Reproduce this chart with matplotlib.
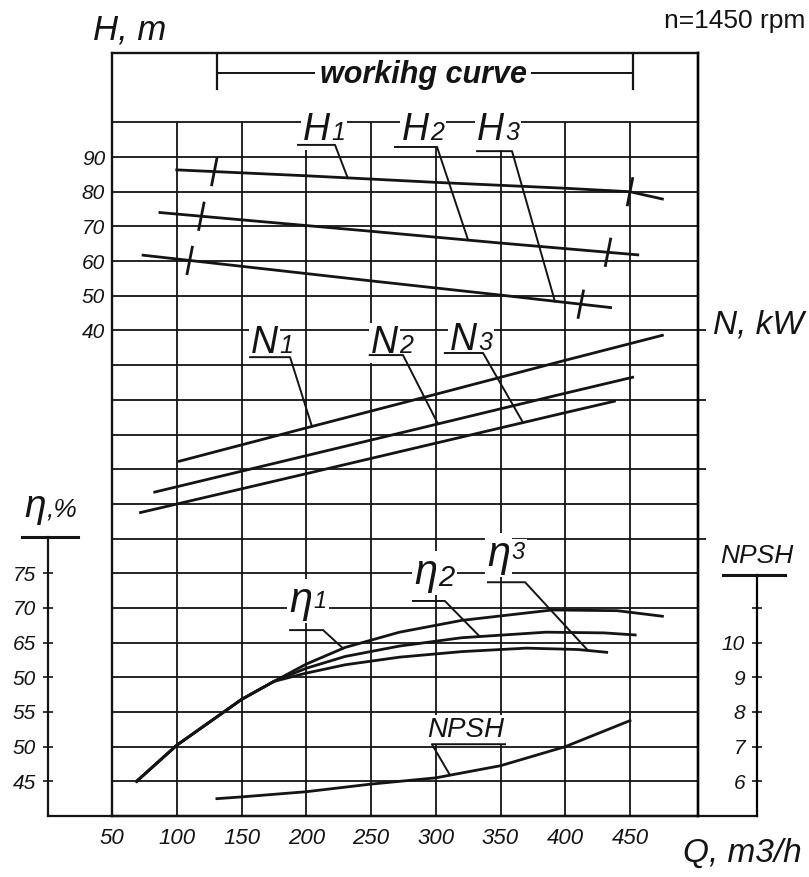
import numpy as np
import matplotlib.pyplot as plt
from matplotlib.lines import Line2D

plt.rcParams['font.family'] = ['Liberation Sans', 'DejaVu Sans']
plt.rcParams['font.style'] = 'italic'

# ---- values ----
q_ticks = [50, 100, 150, 200, 250, 300, 350, 400, 450]
h_ticks = [90, 80, 70, 60, 50, 40]
eta_ticks = [75, 70, 65, 60, 55, 50, 45]
eta_labels = ['75', '70', '65', '50', '55', '50', '45']   # printed like this on the original
npsh_ticks = [6, 7, 8, 9, 10, 11]
npsh_labels = ['6', '7', '8', '9', '10', '']
n_ticks = [-20, 0, 20, 40]   # unlabelled N-scale ticks (grid units)

# head curves, m
q_h1 = [100, 200, 300, 400, 450, 475]
h1 = [86.3, 84.6, 82.7, 81.0, 80.0, 77.9]
q_h2 = [87, 150, 250, 350, 456]
h2 = [74.0, 71.9, 68.6, 65.2, 61.8]
q_h3 = [74, 150, 250, 350, 435]
h3 = [61.7, 58.5, 54.3, 50.2, 46.6]
work_h1 = [129, 450]
work_h2 = [119, 433]
work_h3 = [110, 412]
work_range = [131, 452]

# power curves (no scale printed, grid units)
q_n1 = [102, 200, 300, 400, 475]
n1 = [2.3, 11.9, 21.6, 31.4, 38.6]
q_n2 = [83, 200, 300, 400, 452]
n2 = [-6.6, 3.9, 12.9, 21.9, 26.5]
q_n3 = [72, 200, 300, 400, 438]
n3 = [-12.5, -1.3, 7.5, 16.3, 19.6]

# efficiency, %
q_e1 = [69, 100, 150, 175, 200, 230, 272, 320, 390, 440, 475]
e1 = [45, 50.2, 56.8, 59.4, 61.9, 64.3, 66.5, 68.2, 69.7, 69.6, 68.8]
q_e2 = [69, 100, 150, 175, 200, 230, 272, 320, 385, 430, 454]
e2 = [45, 50.2, 56.8, 59.4, 61.3, 63.0, 64.5, 65.7, 66.5, 66.4, 66.1]
q_e3 = [69, 100, 150, 175, 200, 230, 272, 320, 370, 410, 432]
e3 = [45, 50.2, 56.8, 59.4, 60.6, 61.8, 62.9, 63.7, 64.2, 64.0, 63.6]

# NPSH, m
q_np = [131, 150, 200, 250, 300, 350, 400, 450]
npsh = [5.5, 5.55, 5.7, 5.92, 6.1, 6.45, 7.0, 7.75]

INK = '#141414'
W, H = 809, 877
fig = plt.figure(figsize=(W / 100, H / 100), dpi=100)
fig.patch.set_facecolor('white')


def fx(px):
    return px / W


def fy(py):
    return 1 - py / H


# outer eta axis + long bottom line
axe = fig.add_axes([fx(48), fy(816), fx(757) - fx(48), fy(537) - fy(816)])
axe.set_facecolor('none')
axe.set_ylim(40, 40 + (816 - 537) / 34.68 * 5)
axe.spines[['top', 'right']].set_visible(False)
for s in ['left', 'bottom']:
    axe.spines[s].set_linewidth(1.6)
    axe.spines[s].set_color(INK)
axe.set_xticks([])
axe.set_yticks(eta_ticks)
axe.set_yticklabels(eta_labels, fontsize=15)
axe.tick_params(axis='y', direction='inout', length=7, width=1.2, pad=5, colors=INK)

# outer NPSH axis
axn = fig.add_axes([fx(757), fy(816), fx(760) - fx(757), fy(575) - fy(816)])
axn.set_facecolor('none')
axn.set_ylim(5, 5 + (816 - 575) / 34.68)
axn.spines[['top', 'right', 'bottom']].set_visible(False)
axn.spines['left'].set_linewidth(1.6)
axn.set_xticks([])
axn.set_yticks(npsh_ticks)
axn.set_yticklabels(npsh_labels, fontsize=15)
axn.tick_params(axis='y', direction='inout', length=7, width=1.2, pad=5, colors=INK)

# main grid
ax = fig.add_axes([fx(112), fy(816), fx(698) - fx(112), fy(53) - fy(816)])
ax.set_facecolor('none')
ax.set_xlim(50, 502.5)
ax.set_ylim(-100, 120)
for s in ax.spines.values():
    s.set_linewidth(1.7)
    s.set_color(INK)
ax.hlines(np.arange(-90, 101, 10), 50, 502.5, color=INK, lw=1.3, zorder=1)
ax.vlines(q_ticks[1:], -100, 100, color=INK, lw=1.3, zorder=1)
ax.set_xticks(q_ticks)
ax.set_xticklabels([str(v) for v in q_ticks], fontsize=16)
ax.set_yticks(h_ticks)
ax.set_yticklabels([str(v) for v in h_ticks], fontsize=15)
ax.tick_params(axis='x', length=0, pad=9, colors=INK)
ax.tick_params(axis='y', length=0, pad=5, colors=INK)

# unlabelled N ticks on the right border
axk = ax.twinx()
axk.set_ylim(-100, 120)
axk.set_yticks(n_ticks)
axk.tick_params(axis='y', length=6, width=1.3, labelright=False, colors=INK)
axk.spines[['top', 'left', 'bottom']].set_visible(False)
axk.spines['right'].set_linewidth(1.7)

# twins carrying the eta and NPSH scales
ax_e = ax.twinx()
ax_e.set_ylim(40, 150)
ax_e.axis('off')
ax_p = ax.twinx()
ax_p.set_ylim(5, 27)
ax_p.axis('off')

LW = 2.0
for q, h, w in [(q_h1, h1, work_h1), (q_h2, h2, work_h2), (q_h3, h3, work_h3)]:
    ax.plot(q, h, color=INK, lw=LW, zorder=3)
    for qw in w:
        hw = np.interp(qw, q, h)
        ax.plot([qw - 2, qw + 2], [hw - 3.8, hw + 3.8], color=INK, lw=2.0, zorder=3)
for q, n in [(q_n1, n1), (q_n2, n2), (q_n3, n3)]:
    ax.plot(q, n, color=INK, lw=LW, zorder=3)
for q, e in [(q_e1, e1), (q_e2, e2), (q_e3, e3)]:
    ax_e.plot(q, e, color=INK, lw=LW, zorder=3)
ax_p.plot(q_np, npsh, color=INK, lw=LW, zorder=3)

BOX = dict(fc='white', ec='none', pad=1.5)


def tag(a, x, y, sym, digit, size, dsize, dy=0):
    a.text(x, y, sym, fontsize=size, ha='right', va='baseline', color=INK, bbox=BOX, zorder=5)
    a.annotate(digit, (x, y), xytext=(1, dy), textcoords='offset points', fontsize=dsize,
               ha='left', va='baseline', color=INK, bbox=BOX, zorder=5)


def leader(a, x0, x1, y, q_end, qc, vc):
    a.plot([x0, x1, q_end], [y, y, np.interp(q_end, qc, vc)], color=INK, lw=1.4, zorder=6)


# H labels
tag(ax, 218.3, 94.9, 'H', '1', 27, 18)
tag(ax, 294.8, 94.9, 'H', '2', 27, 18)
tag(ax, 352.7, 94.9, 'H', '3', 27, 18)
leader(ax, 193.6, 222.2, 93.5, 232, q_h1, h1)
leader(ax, 268.5, 301.0, 92.9, 325, q_h2, h2)
leader(ax, 331.9, 358.9, 91.7, 392, q_h3, h3)

# N labels
tag(ax, 178.2, 33.5, 'N', '1', 27, 18)
tag(ax, 270.9, 33.5, 'N', '2', 27, 18)
tag(ax, 331.9, 34.4, 'N', '3', 27, 18)
leader(ax, 156.6, 187.5, 32.3, 204.4, q_n1, n1)
leader(ax, 249.0, 274.7, 32.9, 301.7, q_n2, n2)
leader(ax, 307.0, 336.5, 33.5, 367.4, q_n3, n3)

# eta labels
tag(ax_e, 204.4, 69.4, 'η', '1', 30, 17, dy=3)
tag(ax_e, 301.0, 73.4, 'η', '2', 30, 21, dy=-1)
tag(ax_e, 357.3, 76.0, 'η', '3', 30, 17, dy=5)
leader(ax_e, 187.5, 213.0, 66.8, 228.4, q_e1, e1)
leader(ax_e, 282.4, 307.0, 71.0, 334.0, q_e2, e2)
leader(ax_e, 340.3, 369.0, 73.7, 417.6, q_e3, e3)

# NPSH label
ax_p.text(323.4, 7.27, 'NPSH', fontsize=20, ha='center', va='baseline', color=INK, bbox=BOX, zorder=5)
leader(ax_p, 353.5, 297.0, 7.07, 311.0, q_np, npsh)

# working range bracket
ax.plot(work_range, [114.2, 114.2], color=INK, lw=1.4, zorder=3)
for qw in work_range:
    ax.plot([qw, qw], [109.6, 119.4], color=INK, lw=1.6, zorder=3)
ax.text(290.2, 111.3, 'workihg curve', fontsize=22, fontweight='bold', ha='center',
        va='baseline', color=INK, bbox=dict(fc='white', ec='none', pad=3), zorder=5)

# axis titles
fig.text(fx(93), fy(40), 'H, m', fontsize=25, ha='left', va='baseline', color=INK)
fig.text(fx(805), fy(28), 'n=1450 rpm', fontsize=19, style='normal', ha='right', va='baseline', color=INK)
fig.text(fx(804), fy(333), 'N, kW', fontsize=24, ha='right', va='baseline', color=INK)
fig.text(fx(802), fy(862), 'Q, m3/h', fontsize=24, ha='right', va='baseline', color=INK)
fig.text(fx(46), fy(517), 'η', fontsize=28, ha='right', va='baseline', color=INK)
fig.text(fx(47), fy(517), ',%', fontsize=19, ha='left', va='baseline', color=INK)
fig.add_artist(Line2D([fx(22), fx(78)], [fy(537), fy(537)], color=INK, lw=2.2))
fig.text(fx(757), fy(563), 'NPSH', fontsize=19, ha='center', va='baseline', color=INK)
fig.add_artist(Line2D([fx(723), fx(785)], [fy(575), fy(575)], color=INK, lw=2.2))

fig.savefig('out.png', dpi=100, facecolor='white')
